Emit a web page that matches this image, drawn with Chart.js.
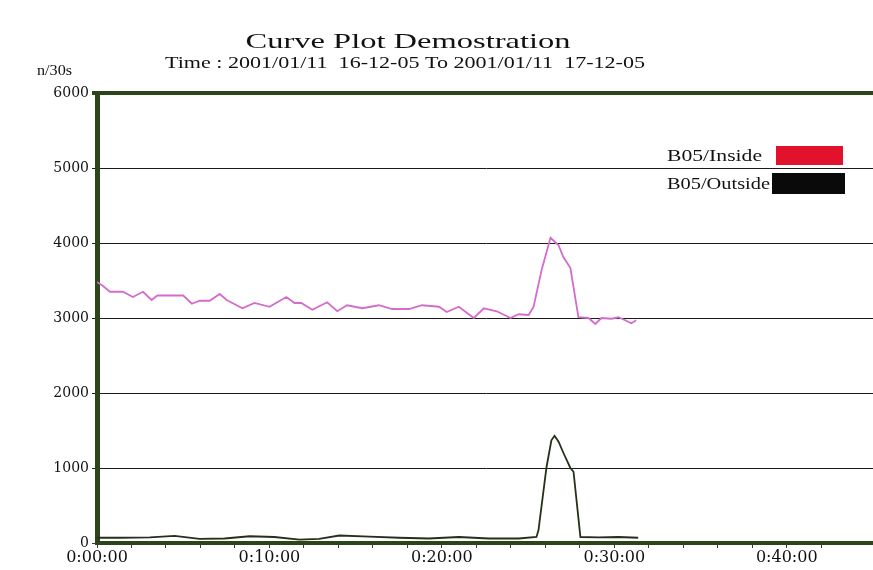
<!DOCTYPE html>
<html lang="en">
<head>
    <meta charset="UTF-8">
    <title>Curve Plot Demostration</title>
    <script src="https://cdn.jsdelivr.net/npm/chart.js@4.4.0/dist/chart.umd.min.js"></script>
    <style>
        body { margin: 0; background: #fff; }
        .chart-container { width: 873px; height: 570px; }
    </style>
</head>
<body>
    <div class="chart-container">
        <canvas id="chart"></canvas>
    </div>

    <script>
        // Time in seconds from start, counts per 30 s
        const insideTime = [0, 20, 45, 90, 125, 160, 190, 210, 300, 330, 357, 392, 427, 451, 506, 548, 600,
            659, 687, 711, 749, 801, 836, 870, 923, 981, 1027, 1086, 1131, 1190, 1217, 1259, 1311, 1346,
            1391, 1439, 1467, 1502, 1519, 1547, 1578, 1606, 1623, 1647, 1675, 1710, 1734, 1755, 1790,
            1814, 1838, 1859, 1876];
        const insideValues = [3480, 3430, 3350, 3350, 3280, 3350, 3240, 3300, 3300, 3190, 3230, 3230, 3320,
            3240, 3130, 3200, 3150, 3280, 3200, 3200, 3110, 3210, 3090, 3170, 3130, 3170, 3120, 3120,
            3170, 3150, 3080, 3150, 3000, 3130, 3090, 3000, 3050, 3040, 3150, 3640, 4070, 3970, 3810,
            3670, 3010, 3000, 2920, 3000, 2990, 3010, 2970, 2930, 2970];

        const outsideTime = [0, 80, 184, 270, 357, 444, 531, 617, 704, 773, 843, 947, 1051, 1155, 1259,
            1363, 1467, 1529, 1536, 1564, 1581, 1592, 1606, 1623, 1647, 1658, 1682, 1745, 1814, 1883];
        const outsideValues = [70, 70, 75, 95, 55, 60, 90, 80, 45, 55, 100, 85, 70, 60, 80,
            60, 60, 80, 170, 1010, 1370, 1430, 1350, 1200, 1000, 950, 80, 75, 80, 70];

        const titleText = "Curve Plot Demostration";
        const subtitleText = "Time : 2001/01/11  16-12-05 To 2001/01/11  17-12-05";
        const unitText = "n/30s";

        const axisGreen = "#2c4419";
        const serif = "'Liberation Serif', 'DejaVu Serif', serif";
        const wideSerif = "'DejaVu Serif', serif";

        function toPoints(times, values) {
            return times.map((t, i) => ({ x: t, y: values[i] }));
        }

        function formatTime(sec) {
            const h = Math.floor(sec / 3600);
            const m = Math.floor((sec % 3600) / 60);
            const s = sec % 60;
            return h + ":" + String(m).padStart(2, "0") + ":" + String(s).padStart(2, "0");
        }

        // the scanned original has horizontally stretched lettering
        function wideText(ctx, text, x, y, width) {
            const w = ctx.measureText(text).width;
            ctx.save();
            ctx.translate(x, y);
            ctx.scale(width / w, 1);
            ctx.fillText(text, 0, 0);
            ctx.restore();
        }

        // Title, unit label and the boxed legend inside the plot
        const decorations = {
            id: "decorations",
            afterDraw(chart) {
                const ctx = chart.ctx;
                ctx.save();
                ctx.fillStyle = "#111";
                ctx.textBaseline = "alphabetic";
                ctx.textAlign = "center";
                ctx.font = "21px " + serif;
                wideText(ctx, titleText, 408, 48, 325);
                ctx.font = "16px " + serif;
                wideText(ctx, subtitleText, 405, 68, 480);
                ctx.textAlign = "left";
                ctx.font = "15px " + serif;
                wideText(ctx, unitText, 37, 75, 35);

                const boxes = [
                    { x: 776, y: 146, w: 67, h: 19 },
                    { x: 772, y: 173, w: 73, h: 21 }
                ];
                ctx.font = "16px " + serif;
                chart.data.datasets.forEach((ds, i) => {
                    const b = boxes[i];
                    ctx.fillStyle = "#111";
                    wideText(ctx, ds.label, 667, b.y + b.h / 2 + 5, i === 0 ? 95 : 103);
                    ctx.fillStyle = ds.legendColor;
                    ctx.fillRect(b.x, b.y, b.w, b.h);
                });
                ctx.restore();
            }
        };

        const ctx = document.getElementById("chart").getContext("2d");
        new Chart(ctx, {
            type: "line",
            data: {
                datasets: [
                    {
                        label: "B05/Inside",
                        data: toPoints(insideTime, insideValues),
                        borderColor: "#d46ccb",
                        legendColor: "#e3122c",
                        borderWidth: 1.8,
                        pointRadius: 0,
                        tension: 0,
                        fill: false
                    },
                    {
                        label: "B05/Outside",
                        data: toPoints(outsideTime, outsideValues),
                        borderColor: "#243018",
                        legendColor: "#0a0a0a",
                        borderWidth: 1.8,
                        pointRadius: 0,
                        tension: 0,
                        fill: false
                    }
                ]
            },
            options: {
                responsive: true,
                maintainAspectRatio: false,
                animation: false,
                layout: { padding: { top: 93, right: 0, left: 0, bottom: 0 } },
                plugins: {
                    legend: { display: false },
                    tooltip: { enabled: false }
                },
                scales: {
                    x: {
                        type: "linear",
                        min: 0,
                        max: 2700,
                        afterFit(scale) { scale.height = 27; },
                        border: { color: axisGreen, width: 4 },
                        grid: {
                            drawOnChartArea: false,
                            drawTicks: true,
                            tickLength: 5,
                            color: axisGreen
                        },
                        ticks: {
                            stepSize: 120,
                            autoSkip: false,
                            maxRotation: 0,
                            padding: 0,
                            color: "#111",
                            font: { family: wideSerif, size: 16 },
                            callback: v => (v % 600 === 0 ? formatTime(v) : "")
                        }
                    },
                    y: {
                        min: 0,
                        max: 6000,
                        afterFit(scale) { scale.width = 97; },
                        border: { color: axisGreen, width: 5 },
                        grid: {
                            color: c => (c.tick.value === 6000 || c.tick.value === 0 ? axisGreen : "#1a1a1a"),
                            lineWidth: c => (c.tick.value === 6000 ? 4 : 1),
                            tickLength: 5
                        },
                        ticks: {
                            stepSize: 1000,
                            padding: 3,
                            color: "#111",
                            font: { family: wideSerif, size: 14 },
                            callback: v => String(v)
                        }
                    }
                }
            },
            plugins: [decorations]
        });
    </script>
</body>
</html>
